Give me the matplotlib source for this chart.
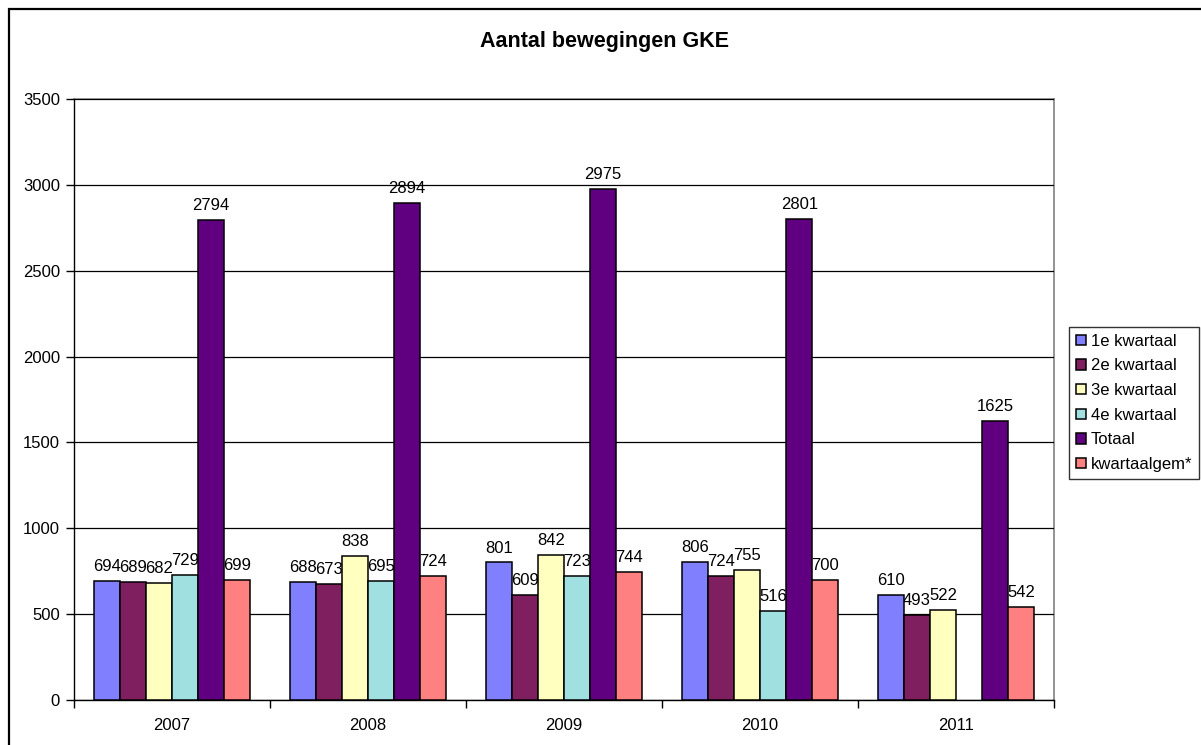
import numpy as np
import matplotlib
matplotlib.use("Agg")
import matplotlib.pyplot as plt
from matplotlib.patches import Rectangle

plt.rcParams['font.family'] = ['Liberation Sans', 'DejaVu Sans']

years = ["2007", "2008", "2009", "2010", "2011"]
series_names = ["1e kwartaal", "2e kwartaal", "3e kwartaal", "4e kwartaal", "Totaal", "kwartaalgem*"]
q1 = [694, 688, 801, 806, 610]
q2 = [689, 673, 609, 724, 493]
q3 = [682, 838, 842, 755, 522]
q4 = [729, 695, 723, 516, np.nan]
totaal = [2794, 2894, 2975, 2801, 1625]
gem = [699, 724, 744, 700, 542]
colors = ["#8080FF", "#7F1F5F", "#FFFFC0", "#A0E0E0", "#600080", "#FF8080"]
yticks = [0, 500, 1000, 1500, 2000, 2500, 3000, 3500]

series = [q1, q2, q3, q4, totaal, gem]

W, H = 1201, 745
fig = plt.figure(figsize=(W / 100, H / 100), dpi=100)
ax = fig.add_axes([74 / W, 1 - 700 / H, (1054 - 74) / W, (700 - 99) / H])

n = len(series)
bw = 0.8 / n
x = np.arange(len(years))
for i, (vals, name, c) in enumerate(zip(series, series_names, colors)):
    pos = x - 0.4 + bw * (i + 0.5)
    ax.bar(pos, vals, width=bw, color=c, edgecolor="black", linewidth=1.1,
           label=name, zorder=3)
    for p, v in zip(pos, vals):
        if np.isnan(v):
            continue
        ax.annotate(f"{int(v)}", (p, v), xytext=(0, 5), textcoords="offset points",
                    ha="center", va="bottom", fontsize=12, zorder=0.5,
                    annotation_clip=False)

ax.set_xlim(-0.5, len(years) - 0.5)
ax.set_ylim(0, 3500)
ax.set_yticks(yticks)
ax.set_yticklabels([str(t) for t in yticks])
ax.yaxis.grid(True, color="black", linewidth=0.9, zorder=1)
ax.set_axisbelow(False)
for gl in ax.get_ygridlines():
    gl.set_zorder(1)

ax.set_xticks(x)
ax.set_xticklabels(years)
ax.set_xticks(np.arange(len(years) + 1) - 0.5, minor=True)
ax.tick_params(axis="x", which="major", length=0, pad=13, labelsize=12)
ax.tick_params(axis="x", which="minor", length=6, width=1, direction="out")
ax.tick_params(axis="y", length=6, width=1, direction="out", pad=4, labelsize=12)

for s in ["top", "right"]:
    ax.spines[s].set_color("#808080")
    ax.spines[s].set_linewidth(1.2)
for s in ["left", "bottom"]:
    ax.spines[s].set_color("black")
    ax.spines[s].set_linewidth(1.0)

fig.text(604 / W, 1 - 42 / H, "Aantal bewegingen GKE", ha="center", va="center",
         fontsize=15.5, fontweight="bold")

leg = ax.legend(loc="upper left", bbox_to_anchor=(1069 / W, 1 - 327 / H),
                bbox_transform=fig.transFigure, fontsize=12, frameon=True,
                fancybox=False, handlelength=0.6, handleheight=0.6,
                handletextpad=0.3, labelspacing=0.58, borderpad=0.4,
                borderaxespad=0)
leg.get_frame().set_edgecolor("black")
leg.get_frame().set_linewidth(1.0)

border = Rectangle((9 / W, -0.05), 1.1, 1 - 9 / H + 0.05, transform=fig.transFigure,
                   fill=False, edgecolor="black", linewidth=1.6, clip_on=False)
fig.add_artist(border)

fig.savefig("out.png", dpi=100)
